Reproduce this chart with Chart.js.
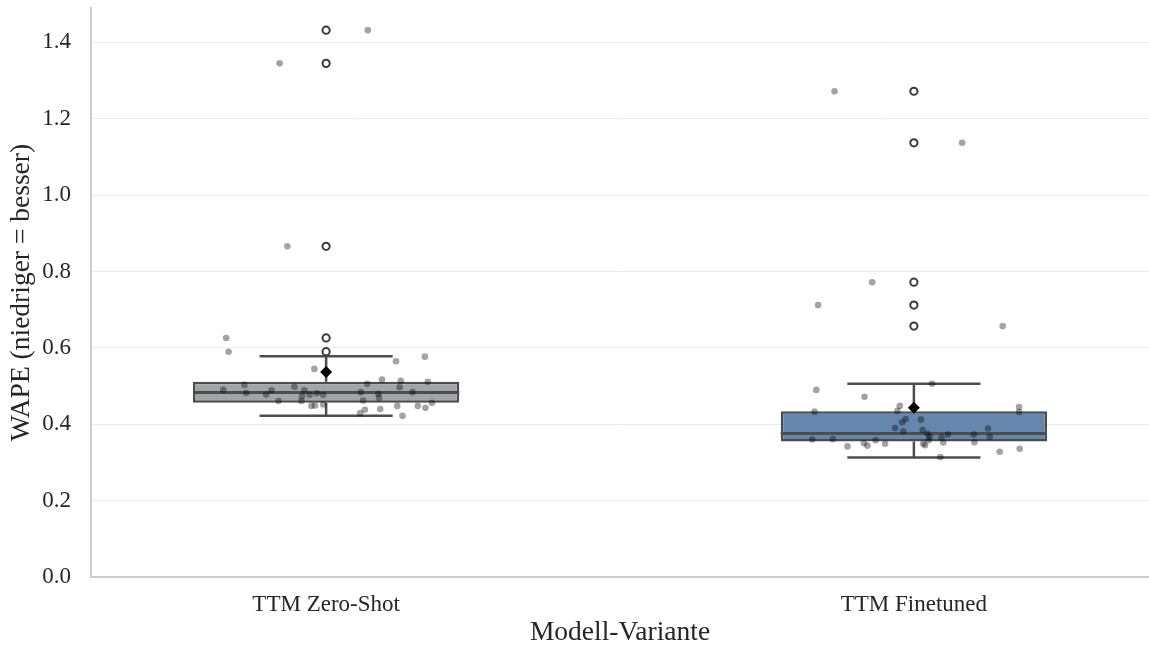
<!DOCTYPE html>
<html>
<head>
<meta charset="utf-8">
<script src="https://cdn.jsdelivr.net/npm/chart.js@4.4.1/dist/chart.umd.min.js"></script>
<style>
  html, body { margin: 0; padding: 0; background: #fff; overflow: hidden; }
  canvas { display: block; }
</style>
</head>
<body>
<canvas id="myChart" width="1149" height="648"></canvas>
<script>
// categories and box statistics
var categories = ['TTM Zero-Shot', 'TTM Finetuned'];
var boxQ1 = [0.456, 0.355];
var boxMedian = [0.483, 0.376];
var boxQ3 = [0.511, 0.434];
var whiskerLow = [0.422, 0.313];
var whiskerHigh = [0.578, 0.506];
var meanValues = [0.537, 0.443];
var yTicks = [0, 0.2, 0.4, 0.6, 0.8, 1.0, 1.2, 1.4];

// outliers (flier circles)
var outliersZeroShot = [0.590, 0.626, 0.866, 1.345, 1.432];
var outliersFinetuned = [0.657, 0.712, 0.772, 1.137, 1.272];

// single observations (strip points) and their horizontal jitter
var zeroShotValues = [0.626, 0.590, 0.545, 0.490, 0.503, 0.482, 0.478, 0.489, 0.461, 0.498,
    0.489, 0.474, 0.461, 0.477, 0.481, 0.477, 0.448, 0.449, 0.452, 0.565,
    0.577, 0.506, 0.517, 0.514, 0.497, 0.511, 0.484, 0.480, 0.469, 0.484,
    0.462, 0.438, 0.429, 0.440, 0.448, 0.422, 0.448, 0.443, 0.456, 0.866,
    1.345, 1.432];
var zeroShotJitter = [-0.170, -0.166, -0.020, -0.175, -0.139, -0.136, -0.102, -0.093, -0.081, -0.054,
    -0.037, -0.041, -0.042, -0.028, -0.016, -0.005, -0.025, -0.019, -0.005, 0.119,
    0.168, 0.070, 0.095, 0.127, 0.125, 0.173, 0.059, 0.089, 0.090, 0.147,
    0.063, 0.066, 0.058, 0.092, 0.121, 0.130, 0.156, 0.169, 0.180, -0.066,
    -0.079, 0.071];

var finetunedValues = [0.490, 0.472, 0.433, 0.435, 0.448, 0.413, 0.405, 0.390, 0.381, 0.360,
    0.361, 0.342, 0.350, 0.344, 0.358, 0.349, 0.506, 0.412, 0.385, 0.375,
    0.367, 0.358, 0.349, 0.345, 0.365, 0.373, 0.352, 0.314, 0.373, 0.353,
    0.389, 0.367, 0.445, 0.432, 0.328, 0.336, 1.272, 1.137, 0.772, 0.712,
    0.657];
var finetunedJitter = [-0.166, -0.084, -0.169, -0.028, -0.024, -0.014, -0.020, -0.032, -0.018, -0.173,
    -0.138, -0.113, -0.085, -0.079, -0.065, -0.049, 0.031, 0.012, 0.015, 0.023,
    0.027, 0.025, 0.016, 0.019, 0.047, 0.058, 0.050, 0.045, 0.102, 0.103,
    0.126, 0.129, 0.179, 0.179, 0.146, 0.180, -0.135, 0.082, -0.071, -0.163,
    0.151];

var boxColors = ['#a3a4a8', '#6586ad'];
var lineColor = '#4d4d4d';
var font = "'Liberation Serif', 'Times New Roman', serif";

function stripPoints(values, jitter, center) {
    var pts = [];
    for (var i = 0; i < values.length; i++) {
        pts.push({ x: center + jitter[i], y: values[i] });
    }
    return pts;
}

function centered(values, center) {
    return values.map(function (v) { return { x: center, y: v }; });
}

// whiskers, caps and median on top of the box bars
var whiskerPlugin = {
    id: 'whiskers',
    afterDatasetDraw: function (chart, args) {
        if (args.index !== 0) return;
        var ctx = chart.ctx;
        var ys = chart.scales.y;
        ctx.save();
        ctx.strokeStyle = lineColor;
        ctx.lineCap = 'butt';
        args.meta.data.forEach(function (bar, i) {
            var cx = bar.x;
            var half = bar.width / 2;
            var capHalf = half / 2;
            var yQ1 = ys.getPixelForValue(boxQ1[i]);
            var yQ3 = ys.getPixelForValue(boxQ3[i]);
            var yLo = ys.getPixelForValue(whiskerLow[i]);
            var yHi = ys.getPixelForValue(whiskerHigh[i]);
            var yMed = ys.getPixelForValue(boxMedian[i]);
            ctx.lineWidth = 2.5;
            ctx.beginPath();
            ctx.moveTo(cx, yQ3); ctx.lineTo(cx, yHi);
            ctx.moveTo(cx, yQ1); ctx.lineTo(cx, yLo);
            ctx.moveTo(cx - capHalf, yHi); ctx.lineTo(cx + capHalf, yHi);
            ctx.moveTo(cx - capHalf, yLo); ctx.lineTo(cx + capHalf, yLo);
            ctx.stroke();
            ctx.lineWidth = 3;
            ctx.beginPath();
            ctx.moveTo(cx - half, yMed); ctx.lineTo(cx + half, yMed);
            ctx.stroke();
        });
        ctx.restore();
    }
};

new Chart('myChart', {
    type: 'bar',
    data: {
        datasets: [{
            type: 'bar',
            data: categories.map(function (c, i) { return { x: i, y: [boxQ1[i], boxQ3[i]] }; }),
            backgroundColor: boxColors,
            borderColor: lineColor,
            borderWidth: 2.5,
            borderSkipped: false,
            barPercentage: 0.453,
            categoryPercentage: 1,
            order: 5
        }, {
            type: 'scatter',
            data: centered(outliersZeroShot, 0).concat(centered(outliersFinetuned, 1)),
            pointRadius: 3.6,
            pointBackgroundColor: '#ffffff',
            pointBorderColor: '#3a3a3a',
            pointBorderWidth: 2,
            order: 4
        }, {
            type: 'scatter',
            data: stripPoints(zeroShotValues, zeroShotJitter, 0).concat(stripPoints(finetunedValues, finetunedJitter, 1)),
            pointRadius: 3.3,
            pointBackgroundColor: 'rgba(0,0,0,0.36)',
            pointBorderWidth: 0,
            order: 3
        }, {
            type: 'scatter',
            data: centered([meanValues[0]], 0).concat(centered([meanValues[1]], 1)),
            pointStyle: 'rectRot',
            pointRadius: 6,
            pointBackgroundColor: '#000000',
            pointBorderColor: '#000000',
            pointBorderWidth: 0,
            order: 1
        }]
    },
    options: {
        responsive: false,
        animation: false,
        layout: { autoPadding: false, padding: { top: 8, right: 0, left: 0, bottom: 0 } },
        plugins: { legend: { display: false }, tooltip: { enabled: false } },
        scales: {
            x: {
                type: 'linear',
                min: -0.4,
                max: 1.4,
                offset: false,
                afterBuildTicks: function (scale) {
                    scale.ticks = categories.map(function (c, i) { return { value: i }; });
                },
                afterFit: function (scale) {
                    scale.height = 71;
                    scale.paddingLeft = 0;
                    scale.paddingRight = 0;
                },
                grid: { display: false, drawTicks: false },
                border: { display: true, color: '#cccccc', width: 2 },
                ticks: {
                    padding: 14,
                    color: '#262626',
                    font: { family: font, size: 23 },
                    callback: function (v) { return categories[v]; }
                },
                title: {
                    display: true,
                    text: 'Modell-Variante',
                    color: '#262626',
                    font: { family: font, size: 27.5, lineHeight: 1.1 },
                    padding: { top: 0, bottom: 0 }
                }
            },
            y: {
                min: 0,
                max: 1.49,
                afterBuildTicks: function (scale) {
                    scale.ticks = yTicks.map(function (v) { return { value: v }; });
                },
                afterFit: function (scale) {
                    scale.width = 91;
                    scale.paddingTop = 0;
                    scale.paddingBottom = 0;
                },
                grid: { color: '#ebebeb', lineWidth: 1, drawTicks: false },
                border: { display: true, color: '#cccccc', width: 2 },
                ticks: {
                    padding: 20,
                    color: '#262626',
                    font: { family: font, size: 23 },
                    callback: function (v) { return v.toFixed(1); }
                },
                title: {
                    display: true,
                    text: 'WAPE (niedriger = besser)',
                    color: '#262626',
                    font: { family: font, size: 27.5, lineHeight: 1.1 },
                    padding: { top: 7, bottom: 0 }
                }
            }
        }
    },
    plugins: [whiskerPlugin]
});
</script>
</body>
</html>
